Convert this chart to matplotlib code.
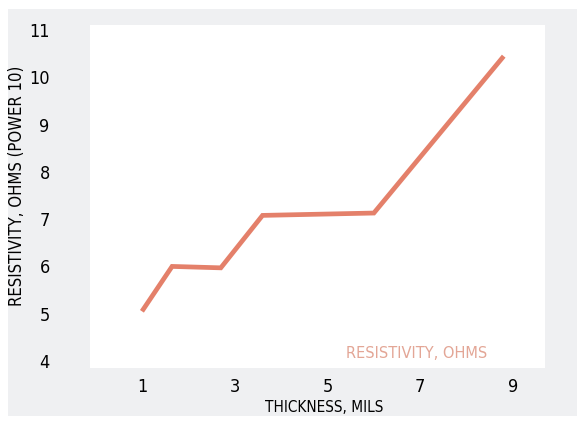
import matplotlib.pyplot as plt
from matplotlib.patches import Rectangle

# data
thickness = [1.0, 1.65, 2.7, 3.6, 6.0, 8.8]
resistivity = [5.05, 6.0, 5.97, 7.08, 7.13, 10.45]
x_ticks = [1, 3, 5, 7, 9]
y_ticks = [4, 5, 6, 7, 8, 9, 10, 11]

W, H = 585, 426
LINE_COLOR = '#e4806a'
LEGEND_COLOR = '#e3a696'
FRAME_COLOR = '#eff0f2'
NARROW = dict(family='DejaVu Sans', stretch='condensed')

fig = plt.figure(figsize=(W / 100, H / 100), dpi=100, facecolor='white')

# grey scanned frame behind the plot area
bg = fig.add_axes([0, 0, 1, 1], zorder=-1)
bg.set_xlim(0, W)
bg.set_ylim(H, 0)
bg.axis('off')
bg.add_patch(Rectangle((8, 9), 569, 407, facecolor=FRAME_COLOR, edgecolor='none'))

ax = fig.add_axes([90 / W, 1 - 368 / H, 455 / W, 343 / H])
ax.set_facecolor('white')
ax.plot(thickness, resistivity, color=LINE_COLOR, linewidth=3.4,
        solid_joinstyle='miter', solid_capstyle='butt')

ax.set_xlim(-0.12, 9.69)
ax.set_ylim(3.85, 11.11)
ax.set_xticks(x_ticks)
ax.set_yticks(y_ticks)
ax.set_xticklabels([str(v) for v in x_ticks], fontsize=13, **NARROW)
ax.set_yticklabels([str(v) for v in y_ticks], fontsize=13, **NARROW)
ax.tick_params(axis='both', length=0)
ax.tick_params(axis='y', pad=29)
ax.tick_params(axis='x', pad=7)
for s in ax.spines.values():
    s.set_visible(False)

ax.text(0.873, 0.02, 'RESISTIVITY, OHMS', transform=ax.transAxes,
        ha='right', va='bottom', color=LEGEND_COLOR, fontsize=10.5)

fig.text(324 / W, 1 - 408 / H, 'THICKNESS, MILS', ha='center', va='center',
         fontsize=11, **NARROW)
fig.text(17 / W, 1 - 186 / H, 'RESISTIVITY, OHMS (POWER 10)', ha='center',
         va='center', rotation=90, fontsize=12, **NARROW)

fig.savefig('out.png', dpi=100)
